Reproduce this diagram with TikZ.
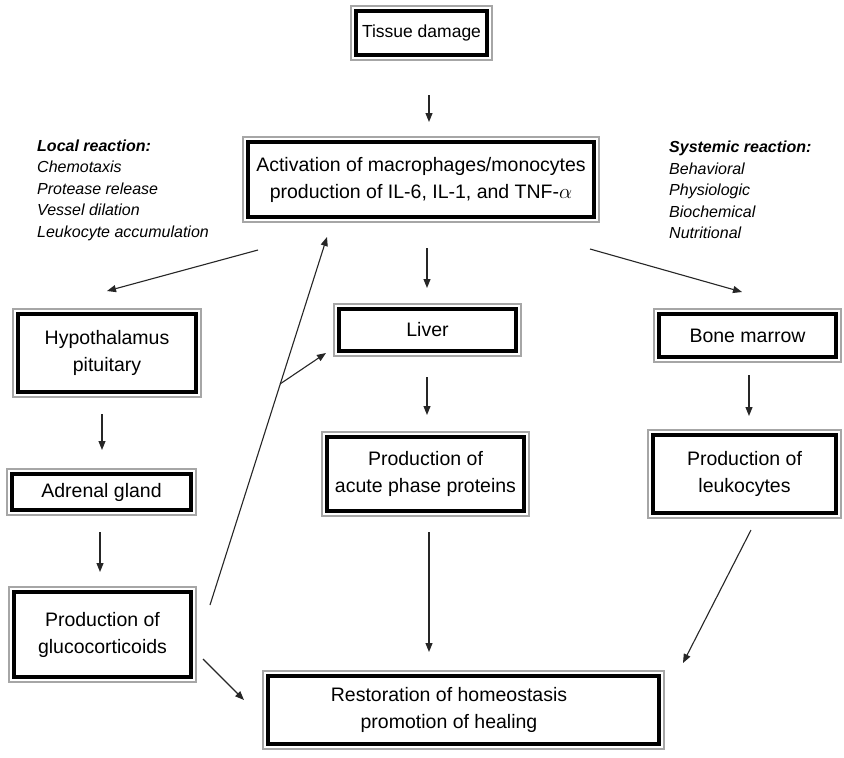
\documentclass[tikz,border=0pt]{standalone}
\usepackage{fontspec}
\setmainfont{Liberation Sans}
\usetikzlibrary{arrows.meta}
\begin{document}
\begin{tikzpicture}[x=1pt,y=-1pt,
  box/.style={draw=black, line width=4.6pt, fill=white,
    preaction={draw=gray!70, line width=12pt},
    preaction={draw=white, line width=8pt},
    inner sep=0pt, align=center, font=\fontsize{19.5}{27}\selectfont},
  side/.style={inner sep=0pt, align=left, anchor=west, font=\fontsize{16}{21.5}\selectfont\itshape},
  arr/.style={draw=black!85, line width=1.1pt, -{Triangle[length=9pt,width=7pt]}},
  ln/.style={draw=black!85, line width=1.1pt}]
\useasboundingbox (0,0) rectangle (844,758);
\fill[white] (0,0) rectangle (844,758);

\node[box, minimum width=131pt, minimum height=44pt, font=\fontsize{17.5}{24}\selectfont] (tissue) at (421.5,33) {Tissue damage};
\node[box, minimum width=346pt, minimum height=75pt] (act) at (421,179.5) {Activation of macrophages/monocytes\\production of IL-6, IL-1, and TNF-$\alpha$};
\node[box, minimum width=178pt, minimum height=78pt] (hyp) at (107,353) {Hypothalamus\\pituitary};
\node[box, minimum width=177pt, minimum height=42pt] (liver) at (427.5,330) {Liver};
\node[box, minimum width=177pt, minimum height=43pt] (bone) at (747.5,335.5) {Bone marrow};
\node[box, minimum width=179pt, minimum height=36pt] (adrenal) at (101.5,492) {Adrenal gland};
\node[box, minimum width=197pt, minimum height=74pt] (app) at (425.5,474) {Production of\\acute phase proteins};
\node[box, minimum width=183pt, minimum height=78pt] (leuk) at (744.5,474) {Production of\\leukocytes};
\node[box, minimum width=177pt, minimum height=85pt] (gluco) at (102.5,634.5) {Production of\\glucocorticoids};
\node[box, minimum width=391pt, minimum height=68pt, align=left] (rest) at (463.5,710) {\begin{tabular}{@{}c@{}}Restoration of homeostasis\\promotion of healing\end{tabular}\hspace{29pt}};

\node[side] (local) at (37,190) {\textbf{Local reaction:}\\Chemotaxis\\Protease release\\Vessel dilation\\Leukocyte accumulation};
\node[side] (systemic) at (669,190) {\textbf{Systemic reaction:}\\Behavioral\\Physiologic\\Biochemical\\Nutritional};

\coordinate (t1) at (429,95);   \coordinate (t2) at (429,122);
\coordinate (h1) at (258,250);  \coordinate (h2) at (107,291);
\coordinate (l1) at (427,248);  \coordinate (l2) at (427,288);
\coordinate (b1) at (590,249);  \coordinate (b2) at (742,292);
\coordinate (a1) at (102,414);  \coordinate (a2) at (102,450);
\coordinate (g1) at (100,532);  \coordinate (g2) at (100,572);
\coordinate (p1) at (427,377);  \coordinate (p2) at (427,415);
\coordinate (k1) at (749,375);  \coordinate (k2) at (749,416);
\coordinate (r1) at (429,532);  \coordinate (r2) at (429,652);
\coordinate (s1) at (751,530);  \coordinate (s2) at (683,663);
\coordinate (q1) at (203,659);  \coordinate (q2) at (244,700);
\coordinate (u1) at (210,605);  \coordinate (u2) at (327,237);
\coordinate (br) at (280,384);  \coordinate (v2) at (326,353);

\draw[arr] (t1) -- (t2);
\draw[arr] (h1) -- (h2);
\draw[arr] (l1) -- (l2);
\draw[arr] (b1) -- (b2);
\draw[arr] (a1) -- (a2);
\draw[arr] (g1) -- (g2);
\draw[arr] (p1) -- (p2);
\draw[arr] (k1) -- (k2);
\draw[arr] (r1) -- (r2);
\draw[arr] (s1) -- (s2);
\draw[arr] (q1) -- (q2);
\draw[arr] (u1) -- (u2);
\draw[arr] (br) -- (v2);
\end{tikzpicture}
\end{document}
